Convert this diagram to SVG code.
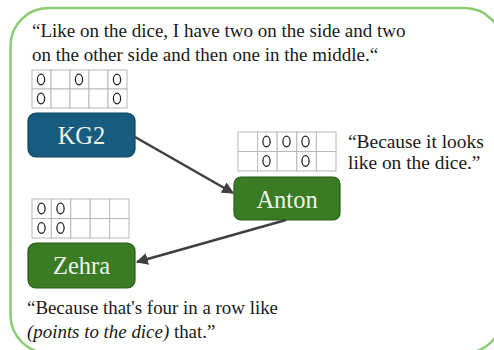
<svg xmlns="http://www.w3.org/2000/svg" width="494" height="350" viewBox="0 0 494 350">
  <style>
    .frame { fill: #ffffff; stroke: #8ccc72; stroke-width: 2.5; }
    .quote { font-family: "Liberation Serif", "Times New Roman", serif; font-size: 19px; fill: #1a1a1a; }
    .quote.side { font-size: 19.4px; }
    .quote.foot { font-size: 18.9px; }
    .label { font-family: "Liberation Serif", "Times New Roman", serif; font-size: 24.5px; fill: #eef5ea; text-anchor: middle; }
    .blue { fill: #175c7f; stroke: #0e4560; stroke-width: 1.2; }
    .green { fill: #3a7b24; stroke: #285a17; stroke-width: 1.2; }
    .grid rect { fill: #ffffff; stroke: #b8b8b8; stroke-width: 1; }
    .grid ellipse { fill: none; stroke: #222222; stroke-width: 1.3; }
    .edge { stroke: #3f3f3f; stroke-width: 2.4; fill: none; marker-end: url(#arrow); }
  </style>
  <defs>
    <marker id="arrow" viewBox="0 0 10 10" refX="9" refY="5" markerWidth="5" markerHeight="5" orient="auto" markerUnits="strokeWidth">
      <path d="M0,0 L10,5 L0,10 z" fill="#3f3f3f"/>
    </marker>
  </defs>

  <rect width="494" height="350" fill="#ffffff"/>
  <rect class="frame" x="10.5" y="8" width="492" height="345" rx="38"/>

  <!-- Quote for KG2 -->
  <text class="quote" x="32" y="37">“Like on the dice, I have two on the side and two</text>
  <text class="quote" x="32" y="61">on the other side and then one in the middle.“</text>

  <!-- KG2 dot pattern -->
  <g id="grid-kg2" class="grid">
    <rect x="32" y="70" width="19" height="19"/><rect x="51" y="70" width="19" height="19"/><rect x="70" y="70" width="19" height="19"/><rect x="89" y="70" width="19" height="19"/><rect x="108" y="70" width="19" height="19"/>
    <rect x="32" y="89" width="19" height="19"/><rect x="51" y="89" width="19" height="19"/><rect x="70" y="89" width="19" height="19"/><rect x="89" y="89" width="19" height="19"/><rect x="108" y="89" width="19" height="19"/>
    <ellipse cx="41" cy="79.5" rx="3.6" ry="5.3"/>
    <ellipse cx="79" cy="79.5" rx="3.6" ry="5.3"/>
    <ellipse cx="117" cy="79.5" rx="3.6" ry="5.3"/>
    <ellipse cx="41" cy="98.5" rx="3.6" ry="5.3"/>
    <ellipse cx="117" cy="98.5" rx="3.6" ry="5.3"/>
  </g>

  <g id="node-kg2">
    <rect class="blue" x="28" y="113" width="107" height="44" rx="8"/>
    <text class="label" x="81.5" y="143.5">KG2</text>
  </g>

  <!-- Anton dot pattern and quote -->
  <g id="grid-anton" class="grid">
    <rect x="238" y="132" width="19.6" height="19.5"/><rect x="257.6" y="132" width="19.6" height="19.5"/><rect x="277.2" y="132" width="19.6" height="19.5"/><rect x="296.8" y="132" width="19.6" height="19.5"/><rect x="316.4" y="132" width="19.6" height="19.5"/>
    <rect x="238" y="151.5" width="19.6" height="19.5"/><rect x="257.6" y="151.5" width="19.6" height="19.5"/><rect x="277.2" y="151.5" width="19.6" height="19.5"/><rect x="296.8" y="151.5" width="19.6" height="19.5"/><rect x="316.4" y="151.5" width="19.6" height="19.5"/>
    <ellipse cx="266.5" cy="141.5" rx="3.6" ry="5.3"/>
    <ellipse cx="286.5" cy="141.5" rx="3.6" ry="5.3"/>
    <ellipse cx="305.5" cy="141.5" rx="3.6" ry="5.3"/>
    <ellipse cx="266.5" cy="161" rx="3.6" ry="5.3"/>
    <ellipse cx="305.5" cy="161" rx="3.6" ry="5.3"/>
  </g>
  <text class="quote side" x="348" y="148">“Because it looks</text>
  <text class="quote side" x="348" y="168.5">like on the dice.”</text>

  <g id="node-anton">
    <rect class="green" x="234" y="177" width="106" height="43" rx="7"/>
    <text class="label" x="287" y="207.5">Anton</text>
  </g>

  <!-- Zehra dot pattern -->
  <g id="grid-zehra" class="grid">
    <rect x="32" y="199" width="19.4" height="19.5"/><rect x="51.4" y="199" width="19.4" height="19.5"/><rect x="70.8" y="199" width="19.4" height="19.5"/><rect x="90.2" y="199" width="19.4" height="19.5"/><rect x="109.6" y="199" width="19.4" height="19.5"/>
    <rect x="32" y="218.5" width="19.4" height="19.5"/><rect x="51.4" y="218.5" width="19.4" height="19.5"/><rect x="70.8" y="218.5" width="19.4" height="19.5"/><rect x="90.2" y="218.5" width="19.4" height="19.5"/><rect x="109.6" y="218.5" width="19.4" height="19.5"/>
    <ellipse cx="41.5" cy="208.5" rx="3.6" ry="5.3"/>
    <ellipse cx="60.5" cy="208.5" rx="3.6" ry="5.3"/>
    <ellipse cx="41.5" cy="228" rx="3.6" ry="5.3"/>
    <ellipse cx="60.5" cy="228" rx="3.6" ry="5.3"/>
  </g>

  <g id="node-zehra">
    <rect class="green" x="28" y="243" width="107" height="45" rx="8"/>
    <text class="label" x="81.5" y="274">Zehra</text>
  </g>

  <text class="quote foot" x="27" y="313.5">“Because that's four in a row like</text>
  <text class="quote foot" x="27" y="337.5"><tspan font-style="italic">(points to the dice)</tspan> that.”</text>

  <!-- Connectors -->
  <g id="connectors">
    <line class="edge" x1="135" y1="137" x2="233" y2="193"/>
    <line class="edge" x1="286" y1="220" x2="137" y2="262"/>
  </g>
</svg>
